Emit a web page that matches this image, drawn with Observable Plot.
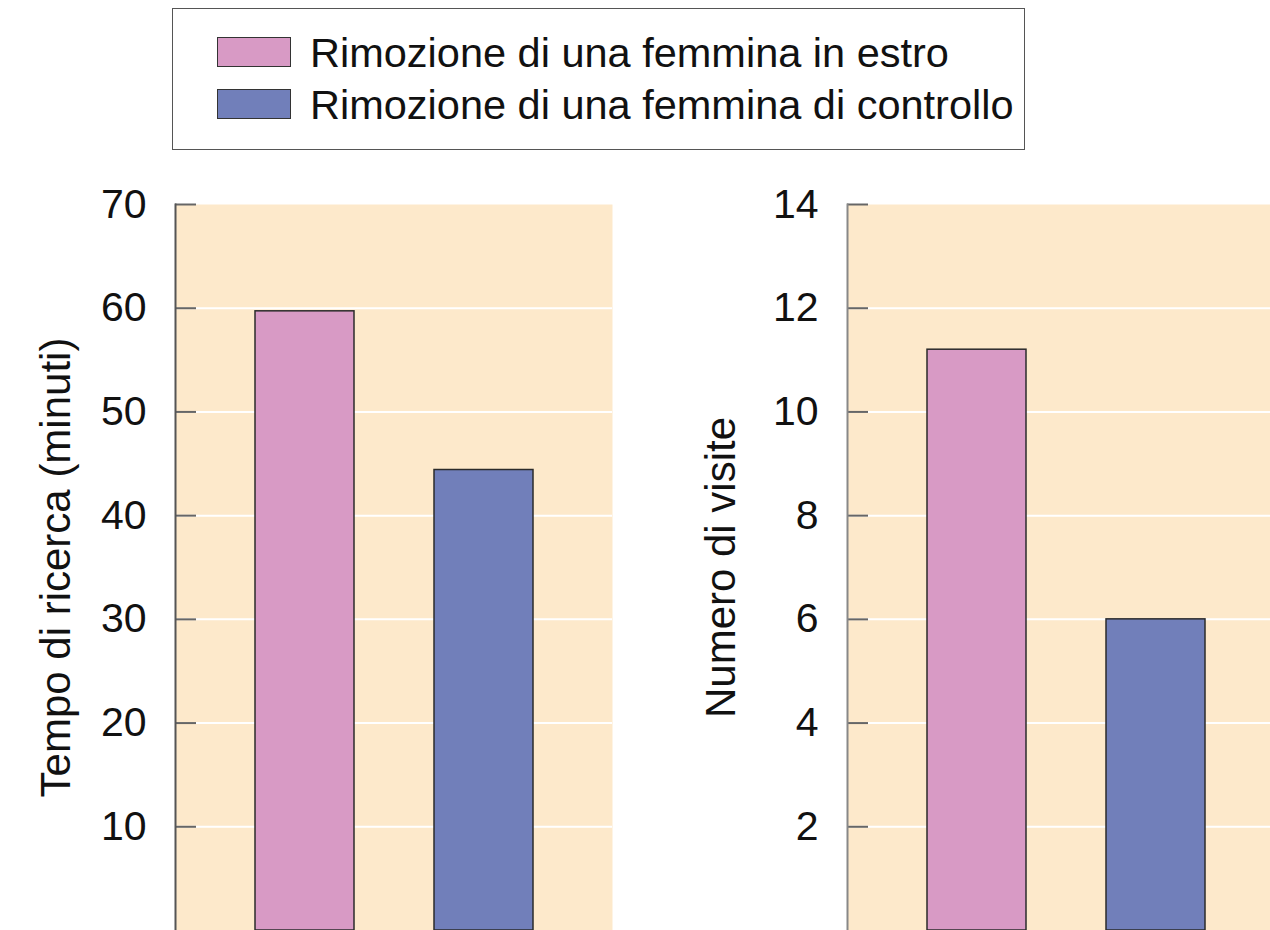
<!DOCTYPE html>
<html>
<head>
<meta charset="utf-8">
<script src="https://cdn.jsdelivr.net/npm/d3@7"></script>
<script src="https://cdn.jsdelivr.net/npm/@observablehq/plot@0.6"></script>
<style>
  html, body { margin: 0; padding: 0; background: #fff; overflow: hidden; }
  #wrap { position: relative; width: 1270px; height: 930px; overflow: hidden; background: #fff;
          font-family: "Liberation Sans", Arial, sans-serif; color: #111; }
  #legend { position: absolute; left: 172px; top: 8px; width: 851px; height: 140px;
            border: 1.5px solid #555; box-sizing: content-box; }
  .row { position: absolute; left: 0; height: 40px; }
  .sw { position: absolute; left: 44px; width: 72px; height: 28px; border: 1.5px solid #333; }
  .lab { position: absolute; left: 137px; white-space: nowrap; font-size: 41.5px; line-height: 42px; }
  #left, #right { position: absolute; top: 0; height: 930px; }
  #left { left: 0; width: 620px; }
  #right { left: 640px; width: 645px; }
  #left svg, #right svg { max-width: none; display: block; }
</style>
</head>
<body>
<div id="wrap">
  <div id="legend"></div>
  <div id="left"></div>
  <div id="right"></div>
</div>
<script>
const categories = ["Rimozione di una femmina in estro", "Rimozione di una femmina di controllo"];
const colors = ["#d89ac5", "#717fba"];
const searchTime = [59.7, 44.4];
const visits = [11.2, 6.0];
const timeTicks = [10, 20, 30, 40, 50, 60, 70];
const visitTicks = [2, 4, 6, 8, 10, 12, 14];
const timeLabel = "Tempo di ricerca (minuti)";
const visitLabel = "Numero di visite";

// Legend
const legend = document.getElementById("legend");
categories.forEach((c, i) => {
  const row = document.createElement("div");
  row.className = "row";
  row.style.top = (i === 0 ? 27 : 79) + "px";
  const sw = document.createElement("div");
  sw.className = "sw";
  sw.style.background = colors[i];
  sw.style.top = "1px";
  const lab = document.createElement("div");
  lab.className = "lab";
  lab.style.top = "-4px";
  lab.textContent = c;
  row.appendChild(sw);
  row.appendChild(lab);
  legend.appendChild(row);
});

function panel({values, ticks, ymax, label, width, marginLeft, marginRight, labelDx, axisColor}) {
  const data = categories.map((c, i) => ({cat: c, value: values[i]}));
  const plotW = width - marginLeft - marginRight;
  return Plot.plot({
    width, height: 930, marginLeft, marginRight, marginTop: 204, marginBottom: 0,
    style: {fontFamily: "'Liberation Sans', Arial, sans-serif", background: "transparent", color: "#111", maxWidth: "none"},
    x: {domain: categories, paddingInner: 0.447, paddingOuter: 0.444, axis: null},
    y: {domain: [0, ymax], axis: null},
    color: {domain: categories, range: colors},
    marks: [
      Plot.frame({fill: "#fde9cb", stroke: null}),
      Plot.ruleY(ticks.filter(t => t < ymax), {stroke: "white", strokeWidth: 2}),
      Plot.barY(data, {x: "cat", y: "value", fill: "cat", stroke: "#2b2b2b", strokeWidth: 1.5}),
      Plot.ruleY(ticks, {stroke: "#666", strokeWidth: 2, insetRight: plotW - 21}),
      Plot.frame({anchor: "left", stroke: axisColor, strokeWidth: 2}),
      Plot.axisY({ticks, tickSize: 0, tickPadding: 29, fontSize: 41, label: null, anchor: "left"}),
      Plot.text([label], {text: d => d, frameAnchor: "left", textAnchor: "middle", dx: labelDx, rotate: -90, fontSize: 42, fill: "#111"})
    ]
  });
}

document.getElementById("left").appendChild(panel({
  values: searchTime, ticks: timeTicks, ymax: 70, label: timeLabel,
  width: 620, marginLeft: 175, marginRight: 8, labelDx: -119, axisColor: "#555"
}));
document.getElementById("right").appendChild(panel({
  values: visits, ticks: visitTicks, ymax: 14, label: visitLabel,
  width: 645, marginLeft: 207, marginRight: 0, labelDx: -126, axisColor: "#888"
}));
</script>
</body>
</html>
